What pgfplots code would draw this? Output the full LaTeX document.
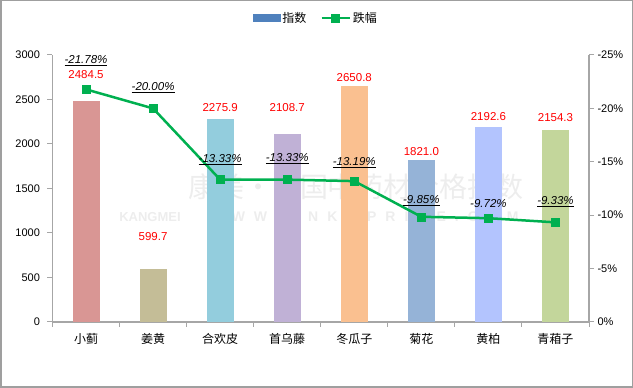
\documentclass[border=0pt]{standalone}
\usepackage{pgfplots}
\pgfplotsset{compat=1.18}
\usepackage{fontspec}
\setmainfont{Liberation Sans}
\newfontfamily\cjk{Noto Sans CJK SC}
\definecolor{cA}{HTML}{D99694}
\definecolor{cB}{HTML}{C4BD97}
\definecolor{cC}{HTML}{93CDDD}
\definecolor{cD}{HTML}{C0B1D6}
\definecolor{cE}{HTML}{FAC090}
\definecolor{cF}{HTML}{95B3D7}
\definecolor{cG}{HTML}{B3C4FE}
\definecolor{cH}{HTML}{C3D69B}
\definecolor{lblue}{HTML}{4F81BD}
\definecolor{lgreen}{HTML}{00B050}
\definecolor{axgray}{HTML}{A6A6A6}
\pgfplotsset{
  mylineleg/.style={legend image code/.code={\draw[mark repeat=2,mark phase=2,##1] plot coordinates {(0pt,0pt) (14pt,0pt) (28pt,0pt)};}},
  mybarleg/.style={legend image code/.code={\fill[lblue] (0pt,-3.5pt) rectangle (27pt,3.5pt);}},
}
\begin{document}
\begin{tikzpicture}[x=1pt,y=1pt]
\draw[draw=gray!75, line width=1.5pt] (0.75,0.75) rectangle (632.25,387.25);
\node[text=black!7, font=\cjk\fontsize{28}{28}\selectfont] at (356,201) {康美·中国中药材价格指数};
\node[text=black!7, font=\bfseries\fontsize{13}{13}\selectfont] at (150,171) {KANGMEI};
\node[text=black!7, font=\bfseries\fontsize{14}{14}\selectfont] at (364,171) {W\hspace{9pt}W\hspace{9pt}W\hspace{9pt}.\hspace{9pt}C\hspace{9pt}N\hspace{9pt}K\hspace{9pt}M\hspace{9pt}P\hspace{9pt}R\hspace{9pt}I\hspace{9pt}C\hspace{9pt}E\hspace{9pt}.\hspace{9pt}C\hspace{9pt}O\hspace{9pt}M};
\begin{axis}[
  at={(52.5pt,66pt)}, anchor=south west,
  scale only axis, width=536.5pt, height=267pt,
  xmin=-0.5, xmax=7.5, ymin=0, ymax=3000,
  axis x line*=bottom, axis y line*=left,
  axis line style={draw=axgray, line width=1.2pt, -},
  ytick={0,500,...,3000},
  xtick={0,...,7},
  xticklabels={小蓟,姜黄,合欢皮,首乌藤,冬瓜子,菊花,黄柏,青葙子},
  x tick label style={font=\cjk\fontsize{12}{14}\selectfont, yshift=-3pt},
  major x tick style={draw=none},
  minor xtick={-0.5,0.5,...,7.5},
  minor x tick style={draw=axgray, line width=1pt},
  minor tick length=5pt,
  y tick label style={font=\fontsize{11}{13}\selectfont, xshift=-4pt},
  ytick style={draw=axgray, line width=1pt},
  tick align=outside, major tick length=5pt,
  /pgf/number format/assume math mode=true,
  /pgf/number format/1000 sep={},
]
\addplot[ybar, bar width=27pt, bar shift=0pt, fill=cA, draw=none] coordinates {(0,2484.5)};
\addplot[ybar, bar width=27pt, bar shift=0pt, fill=cB, draw=none] coordinates {(1,599.7)};
\addplot[ybar, bar width=27pt, bar shift=0pt, fill=cC, draw=none] coordinates {(2,2275.9)};
\addplot[ybar, bar width=27pt, bar shift=0pt, fill=cD, draw=none] coordinates {(3,2108.7)};
\addplot[ybar, bar width=27pt, bar shift=0pt, fill=cE, draw=none] coordinates {(4,2650.8)};
\addplot[ybar, bar width=27pt, bar shift=0pt, fill=cF, draw=none] coordinates {(5,1821.0)};
\addplot[ybar, bar width=27pt, bar shift=0pt, fill=cG, draw=none] coordinates {(6,2192.6)};
\addplot[ybar, bar width=27pt, bar shift=0pt, fill=cH, draw=none] coordinates {(7,2154.3)};
\addplot[draw=none, nodes near coords, point meta=explicit symbolic,
  nodes near coords style={text=red, font=\fontsize{11.5}{13}\selectfont, anchor=center, inner sep=0pt}]
  coordinates {(0,2775)[2484.5] (1,955)[599.7] (2,2404)[2275.9] (3,2404)[2108.7]
               (4,2742)[2650.8] (5,1910)[1821.0] (6,2303)[2192.6] (7,2292)[2154.3]};
\end{axis}
\begin{axis}[
  at={(52.5pt,66pt)}, anchor=south west,
  scale only axis, width=536.5pt, height=267pt,
  xmin=-0.5, xmax=7.5, ymin=0, ymax=25,
  axis y line*=right, axis x line=none,
  axis line style={draw=axgray, line width=1.2pt, -},
  ytick={0,5,...,25},
  yticklabels={0\%,-5\%,-10\%,-15\%,-20\%,-25\%},
  y tick label style={font=\fontsize{11}{13}\selectfont},
  ytick style={draw=axgray, line width=1pt},
  tick align=outside, major tick length=5pt,
  /pgf/number format/assume math mode=true,
  legend style={draw=none, fill=none, at={(0.491,1.1386)}, anchor=center,
    legend columns=-1, font=\cjk\fontsize{12}{14}\selectfont,
    /tikz/every even column/.append style={column sep=12pt}},
]
\addlegendimage{mybarleg}
\addlegendentry{指数}
\addplot[color=lgreen, line width=2.5pt, mark=square*, mark size=4pt, mark options={solid, fill=lgreen, line width=0.5pt}, mylineleg]
  coordinates {(0,21.78) (1,20.00) (2,13.33) (3,13.33) (4,13.19) (5,9.85) (6,9.72) (7,9.33)};
\addlegendentry{跌幅}
\addplot[draw=none, forget plot, nodes near coords={\underline{\textit{\pgfplotspointmeta}}}, point meta=explicit symbolic,
  nodes near coords style={text=black, font=\fontsize{11.5}{13}\selectfont, anchor=center, inner sep=0pt}]
  coordinates {(0,24.47)[-21.78\%] (1,21.98)[-20.00\%] (2,15.23)[-13.33\%] (3,15.26)[-13.33\%]
               (4,14.89)[-13.19\%] (5,11.36)[-9.85\%] (7,11.26)[-9.33\%]};
\addplot[draw=none, forget plot, nodes near coords={\textit{\pgfplotspointmeta}}, point meta=explicit symbolic,
  nodes near coords style={text=black, font=\fontsize{11.5}{13}\selectfont, anchor=center, inner sep=0pt}]
  coordinates {(6,11.05)[-9.72\%]};
\end{axis}
\end{tikzpicture}
\end{document}
